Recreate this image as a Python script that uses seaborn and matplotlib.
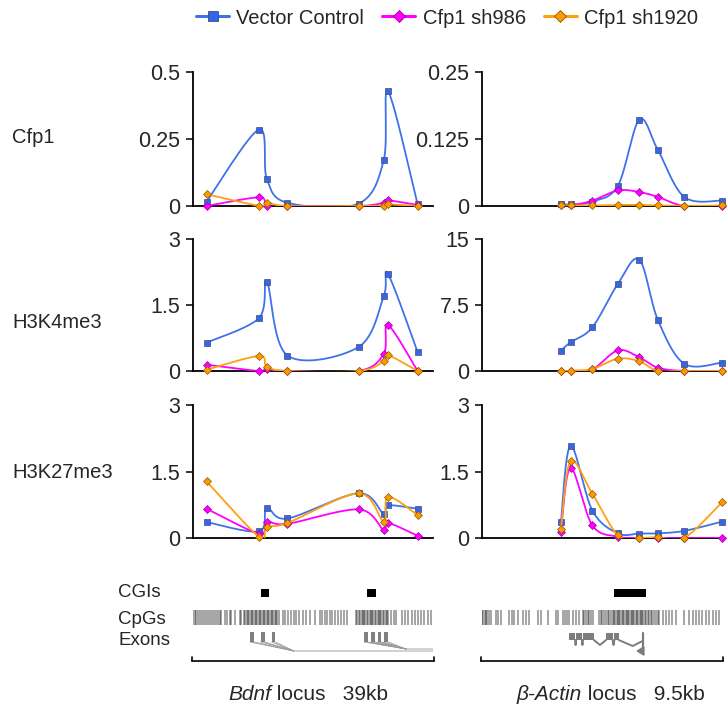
import numpy as np
import pandas as pd
import matplotlib
matplotlib.use("Agg")
import matplotlib.pyplot as plt
import seaborn as sns
from matplotlib.patches import Rectangle

sns.set_theme(style="white")
plt.rcParams['font.family'] = ['Liberation Sans', 'DejaVu Sans']

# ---------------- data ----------------
series = ["Vector Control", "Cfp1 sh986", "Cfp1 sh1920"]
rows = ["Cfp1", "H3K4me3", "H3K27me3"]

bdnf_x = [2.2, 10.7, 12.0, 15.35, 26.9, 31.0, 31.7, 36.5]      # kb
actin_x = [3.11, 3.49, 4.35, 5.36, 6.20, 6.93, 7.97, 9.47]     # kb

cfp1_bdnf_vc = [0.016, 0.285, 0.10, 0.012, 0.009, 0.172, 0.428, 0.007]
cfp1_bdnf_986 = [0.0, 0.032, 0.0, 0.0, 0.0, 0.012, 0.021, 0.004]
cfp1_bdnf_1920 = [0.044, 0.001, 0.012, 0.0, 0.0, 0.001, 0.006, 0.0]

cfp1_actin_vc = [0.004, 0.003, 0.008, 0.038, 0.161, 0.105, 0.017, 0.010]
cfp1_actin_986 = [0.001, 0.001, 0.010, 0.029, 0.026, 0.017, 0.0, 0.0]
cfp1_actin_1920 = [0.001, 0.001, 0.001, 0.002, 0.002, 0.001, 0.0, 0.001]

k4_bdnf_vc = [0.644, 1.20, 2.03, 0.35, 0.545, 1.70, 2.20, 0.43]
k4_bdnf_986 = [0.144, 0.0, 0.045, 0.0, 0.0, 0.39, 1.04, 0.0]
k4_bdnf_1920 = [0.03, 0.34, 0.10, 0.0, 0.0, 0.22, 0.36, 0.0]

k4_actin_vc = [2.31, 3.26, 4.96, 9.92, 12.65, 5.83, 0.83, 0.95]
k4_actin_986 = [0.0, 0.0, 0.19, 2.35, 1.55, 0.38, 0.0, 0.0]
k4_actin_1920 = [0.0, 0.04, 0.23, 1.40, 1.10, 0.0, 0.0, 0.0]

k27_bdnf_vc = [0.36, 0.15, 0.67, 0.44, 1.01, 0.54, 0.735, 0.66]
k27_bdnf_986 = [0.66, 0.10, 0.36, 0.32, 0.645, 0.18, 0.34, 0.05]
k27_bdnf_1920 = [1.275, 0.03, 0.25, 0.34, 1.005, 0.37, 0.93, 0.52]

k27_actin_vc = [0.35, 2.08, 0.62, 0.105, 0.10, 0.105, 0.16, 0.37]
k27_actin_986 = [0.14, 1.58, 0.285, 0.03, 0.0, 0.0, 0.0, 0.0]
k27_actin_1920 = [0.195, 1.73, 1.0, 0.06, 0.0, 0.02, 0.0, 0.81]

yticks_bdnf = [[0, 0.25, 0.5], [0, 1.5, 3], [0, 1.5, 3]]
yticks_actin = [[0, 0.125, 0.25], [0, 7.5, 15], [0, 1.5, 3]]
ylabels_bdnf = [["0", "0.25", "0.5"], ["0", "1.5", "3"], ["0", "1.5", "3"]]
ylabels_actin = [["0", "0.125", "0.25"], ["0", "7.5", "15"], ["0", "1.5", "3"]]

bdnf_len = 39.0
actin_len = 9.58

# annotation tracks (kb)
bdnf_cgi = [(11.0, 12.4), (28.2, 29.8)]
actin_cgi = [(5.21, 6.46)]
bdnf_cpg = [0.0, 0.27, 0.54, 0.81, 1.14, 1.46, 1.79, 2.17, 2.44, 2.71, 3.09, 3.41, 3.74,
            4.06, 4.39, 4.6, 5.15, 5.58, 5.96, 6.23, 6.77, 7.58, 7.85,
            8.3, 8.5, 8.7, 8.9, 9.1, 9.4, 9.6, 9.8, 10.0, 10.2, 10.4, 10.7, 10.9, 11.1,
            11.3, 11.5, 11.7, 12.0, 12.2, 12.4, 12.6, 12.8, 13.0, 13.3, 13.5, 13.7, 13.9,
            14.6, 15.0, 15.4, 15.98, 16.4, 16.8, 17.3, 17.9, 18.4, 19.0, 19.8, 20.6, 21.0,
            21.4, 21.8, 22.2, 22.6, 23.0, 23.6, 24.1, 24.6, 25.1,
            26.5, 26.7, 26.9, 27.2, 27.4, 27.6, 27.8, 28.0, 28.2, 28.5, 28.7, 28.9, 29.1,
            29.3, 29.5, 29.8, 30.0, 30.2, 30.4, 30.6, 30.8, 31.1, 31.3, 31.5, 31.7,
            32.2, 32.7, 33.0, 33.9, 34.4, 34.9, 35.6, 36.0, 36.6, 37.1, 37.6, 38.2, 38.6]
actin_cpg = [0.0, 0.05, 0.10, 0.16, 0.21, 0.29, 0.37, 0.55, 0.63, 0.75,
             1.08, 1.18, 1.27, 1.40, 1.60, 1.73, 1.86, 2.19, 2.32, 2.59, 2.92, 2.98,
             3.20, 3.28, 3.37, 3.44, 3.57, 3.70, 3.84, 3.97, 4.03, 4.10, 4.16, 4.23, 4.29, 4.36,
             4.62, 4.69, 4.75, 4.82, 4.89, 4.95, 5.02, 5.08, 5.15,
             5.21, 5.26, 5.31, 5.36, 5.41, 5.46, 5.51, 5.56, 5.61, 5.66, 5.71, 5.76, 5.81,
             5.86, 5.91, 5.96, 6.01, 6.06, 6.11, 6.16, 6.21, 6.26, 6.31, 6.36, 6.41, 6.46,
             6.53, 6.59, 6.66, 6.72, 6.79, 6.86, 6.92, 6.99, 7.12, 7.25, 7.38, 7.51, 7.64,
             7.97, 8.17, 8.30, 8.43, 8.56, 8.69, 8.82, 8.96, 9.09, 9.22, 9.35]
bdnf_exons_a = [(9.26, 9.91), (11.0, 11.65), (12.8, 13.4)]
bdnf_exons_b = [(27.8, 28.4), (28.9, 29.5), (30.0, 30.6), (31.0, 31.7)]
actin_exons = [(3.42, 3.67), (3.71, 3.94), (3.98, 4.41), (4.89, 5.15), (5.22, 5.39)]

data = {
    ("bdnf", 0): [cfp1_bdnf_vc, cfp1_bdnf_986, cfp1_bdnf_1920],
    ("actin", 0): [cfp1_actin_vc, cfp1_actin_986, cfp1_actin_1920],
    ("bdnf", 1): [k4_bdnf_vc, k4_bdnf_986, k4_bdnf_1920],
    ("actin", 1): [k4_actin_vc, k4_actin_986, k4_actin_1920],
    ("bdnf", 2): [k27_bdnf_vc, k27_bdnf_986, k27_bdnf_1920],
    ("actin", 2): [k27_actin_vc, k27_actin_986, k27_actin_1920],
}

line_colors = ["#3f72ea", "#ff00ff", "#ffa010"]
face_colors = ["#3366ee", "#ff00ff", "#ff9900"]
edge_colors = ["#4a4a6a", "#a000a0", "#8a5a00"]
markers = ["s", "D", "D"]
msizes = [5.0, 4.2, 4.2]

W, H = 728, 708
fig = plt.figure(figsize=(W / 100, H / 100), dpi=100)


def fx(px):
    return px / W


def fy(py):
    return 1 - py / H


def smooth(xs, ys, sx, sy, n=40):
    P = np.column_stack([np.asarray(xs, float) * sx, np.asarray(ys, float) * sy])
    out = []
    t = np.linspace(0, 1, n)[:, None]
    for i in range(len(P) - 1):
        p0 = P[i - 1] if i > 0 else P[i]
        p1, p2 = P[i], P[i + 1]
        p3 = P[i + 2] if i + 2 < len(P) else P[i + 1]
        b1 = p1 + (p2 - p0) / 6
        b2 = p2 - (p3 - p1) / 6
        seg = (1 - t) ** 3 * p1 + 3 * (1 - t) ** 2 * t * b1 + 3 * (1 - t) * t ** 2 * b2 + t ** 3 * p2
        out.append(seg if i == 0 else seg[1:])
    Q = np.vstack(out)
    return Q[:, 0] / sx, Q[:, 1] / sy


row_px = [(72, 206), (239, 371), (405, 538)]
col_px = {"bdnf": (193, 433), "actin": (482, 725)}
col_len = {"bdnf": bdnf_len, "actin": actin_len}
col_x = {"bdnf": bdnf_x, "actin": actin_x}

for r, (top, bot) in enumerate(row_px):
    for col in ["bdnf", "actin"]:
        l, rr = col_px[col]
        ax = fig.add_axes([fx(l), fy(bot), (rr - l) / W, (bot - top) / H])
        ticks = yticks_bdnf[r] if col == "bdnf" else yticks_actin[r]
        labels = ylabels_bdnf[r] if col == "bdnf" else ylabels_actin[r]
        ymax = ticks[-1]
        xs = col_x[col]
        sx = (rr - l) / col_len[col]
        sy = (bot - top) / ymax
        for k, name in enumerate(series):
            ys = data[(col, r)][k]
            cx, cy = smooth(xs, ys, sx, sy)
            curve = pd.DataFrame({"x": cx, "y": cy})
            sns.lineplot(data=curve, x="x", y="y", sort=False, estimator=None, ax=ax,
                         color=line_colors[k], lw=1.3, zorder=3 + k * 2)
            ax.plot(xs, ys, linestyle="none", marker=markers[k], ms=msizes[k],
                    mfc=face_colors[k], mec=edge_colors[k], mew=0.5,
                    zorder=4 + k * 2, clip_on=False)
        ax.set_xlim(0, col_len[col])
        ax.set_ylim(0, ymax)
        ax.set_yticks(ticks)
        ax.set_yticklabels(labels)
        ax.set_xticks([])
        ax.set_xlabel("")
        ax.set_ylabel("")
        for s in ["top", "right"]:
            ax.spines[s].set_visible(False)
        for s in ["left", "bottom"]:
            ax.spines[s].set_color("black")
            ax.spines[s].set_linewidth(1.3)
            ax.spines[s].set_zorder(2.5)
        ax.tick_params(axis="y", which="major", left=True, length=5, width=1.1,
                       color="black", labelsize=15.5, pad=4, direction="out")
        ax.patch.set_alpha(0)

# row labels
label_base = [143, 328, 478]
for name, yb in zip(rows, label_base):
    fig.text(fx(12), fy(yb), name, fontsize=14.5, va="baseline", ha="left")

# legend
from matplotlib.lines import Line2D
handles = [Line2D([0], [0], color=line_colors[k], lw=2.2, marker=markers[k],
                  ms=(7.0 if k == 0 else 6.0),
                  mfc=face_colors[k], mec=edge_colors[k], mew=0.6) for k in range(3)]
fig.legend(handles, series, loc="center", bbox_to_anchor=(fx(447), fy(18)), ncol=3,
           frameon=False, fontsize=14.5, handlelength=1.65, handletextpad=0.35,
           columnspacing=0.9, borderaxespad=0, borderpad=0)

# annotation tracks
ann_top, ann_bot = 580, 672
for col in ["bdnf", "actin"]:
    l, rr = col_px[col]
    ax = fig.add_axes([fx(l), fy(ann_bot), (rr - l) / W, (ann_bot - ann_top) / H])
    ax.set_xlim(0, col_len[col])
    ax.set_ylim(ann_bot, ann_top)
    ax.axis("off")
    cgis = bdnf_cgi if col == "bdnf" else actin_cgi
    for a, b in cgis:
        ax.add_patch(Rectangle((a, 589), b - a, 8, color="black", lw=0))
    cpg = bdnf_cpg if col == "bdnf" else actin_cpg
    ax.vlines(cpg, 610, 625, color="#1a1a1a", alpha=0.5, lw=1.1)
    if col == "bdnf":
        for grp, conv, yconv in [(bdnf_exons_a, 16.4, 651), (bdnf_exons_b, 34.6, 649)]:
            for a, b in grp:
                ax.add_patch(Rectangle((a, 632), b - a, 10, color="#808080", lw=0))
                ax.plot([a, conv], [642, yconv], color="#9a9a9a", lw=0.6)
                ax.plot([b, conv], [642, yconv], color="#9a9a9a", lw=0.6)
        ax.plot([16.4, 34.6], [651, 651], color="#c8c8c8", lw=1.2, solid_capstyle="butt")
        ax.add_patch(Rectangle((34.6, 648), bdnf_len - 34.6, 3.5, color="#d4d4d4", lw=0))
        ax.plot([-0.1, 39.1], [661, 661], color="black", lw=1.2, clip_on=False)
        ax.plot([-0.1, -0.1], [661, 657], color="black", lw=1.2, clip_on=False)
        ax.plot([39.1, 39.1], [661, 657], color="black", lw=1.2, clip_on=False)
    else:
        gc = "#7d7d7d"
        for a, b in actin_exons:
            ax.add_patch(Rectangle((a, 633), b - a, 7, color=gc, lw=0))
        ax.plot([3.67, 3.69, 3.71], [640, 645, 640], color=gc, lw=1.4)
        ax.plot([3.94, 3.96, 3.98], [640, 645, 640], color=gc, lw=1.4)
        ax.plot([4.41, 4.65, 4.89], [640, 645, 640], color=gc, lw=1.4)
        ax.plot([5.15, 5.185, 5.22], [640, 645, 640], color=gc, lw=1.4)
        ax.plot([5.39, 5.94, 6.33], [640, 646, 641], color=gc, lw=1.4)
        ax.plot([6.33, 6.33], [633, 651], color=gc, lw=1.6)
        ax.annotate("", xy=(6.07, 651), xytext=(6.34, 651),
                    arrowprops=dict(arrowstyle="-|>,head_length=0.35,head_width=0.22",
                                    color=gc, lw=1.4, shrinkA=0, shrinkB=0))
        ax.plot([-0.05, 9.5], [661, 661], color="black", lw=1.2, clip_on=False)
        ax.plot([-0.05, -0.05], [661, 657], color="black", lw=1.2, clip_on=False)
        ax.plot([9.5, 9.5], [661, 657], color="black", lw=1.2, clip_on=False)

for name, yb in [("CGIs", 597), ("CpGs", 624), ("Exons", 645)]:
    fig.text(fx(118), fy(yb), name, fontsize=13.5, va="baseline", ha="left")

# locus captions (italic gene name + plain text)
fig.canvas.draw()
renderer = fig.canvas.get_renderer()
for x0, it, rest in [(228, "Bdnf", " locus   39kb"), (517, "β-Actin", " locus   9.5kb")]:
    t1 = fig.text(fx(x0), fy(700), it, fontsize=15, style="italic", va="baseline", ha="left")
    bb = t1.get_window_extent(renderer=renderer)
    fig.text(bb.x1 / W, fy(700), rest, fontsize=15, va="baseline", ha="left")

fig.savefig("out.png", dpi=100)
